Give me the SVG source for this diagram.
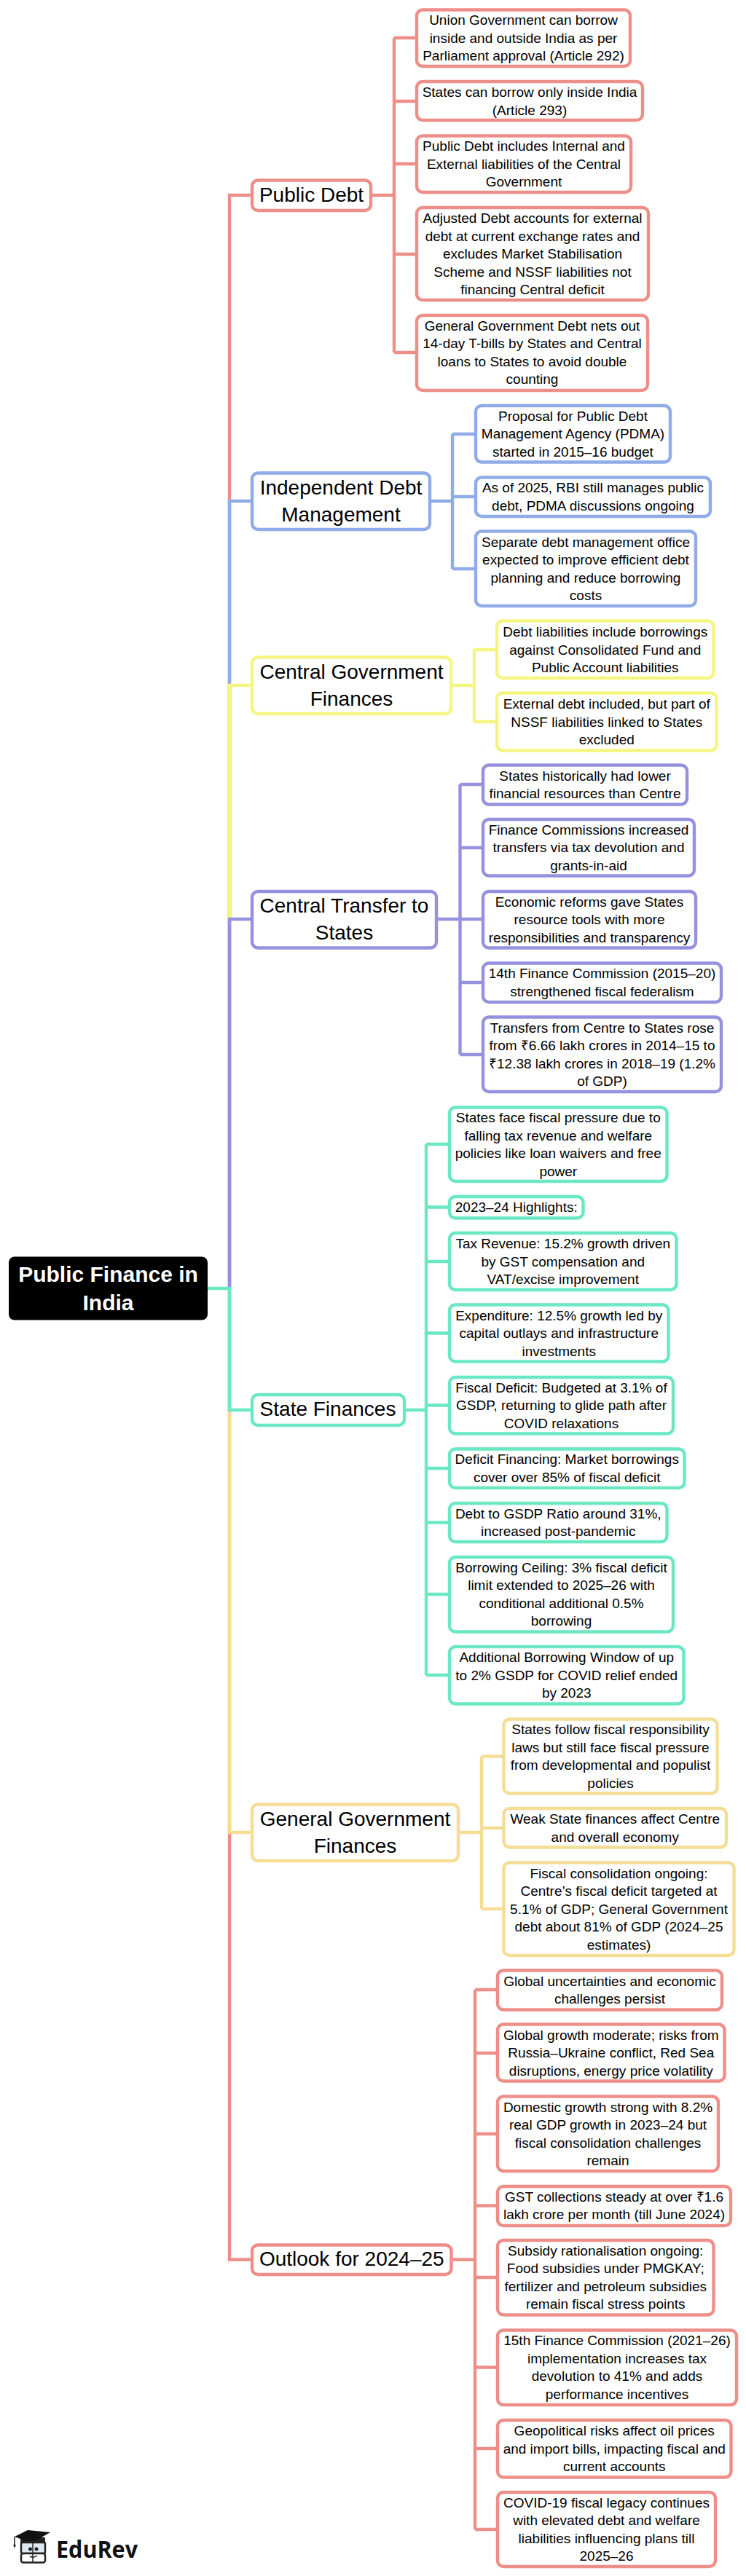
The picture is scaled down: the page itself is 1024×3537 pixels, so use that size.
<svg xmlns="http://www.w3.org/2000/svg" width="1024" height="3537" viewBox="0 0 1024 3537">
<style>
text{font-family:"Liberation Sans",Arial,sans-serif;fill:#000;text-anchor:middle}
.l{font-size:19px}
.t{font-size:28px}
.r{font-size:30px;font-weight:700;fill:#fff}
rect.n{fill:#fff;stroke-width:4.400}
.c{fill:none;stroke-width:4.400}
.red{stroke:#EE8E88}.blue{stroke:#90ACE8}.yel{stroke:#F5F582}.pur{stroke:#9691DE}.grn{stroke:#6AE8C4}.gold{stroke:#F5DD95}
</style>
<rect width="1024" height="3537" fill="#fff"/>
<g id="connectors">
<path class="c red" d="M315 1769V268H344M511 268H541M541 52H570M541 139H570M541 225H570M541 349H570M541 484H570M541 52V484"/>
<path class="c blue" d="M315 1769V688H344M592 688H621M621 596H651M621 682H651M621 781H651M621 596V781"/>
<path class="c yel" d="M315 1769V941H344M621 941H651M651 892H680M651 991H680M651 892V991"/>
<path class="c pur" d="M315 1769V1262H344M601 1262H661M631.500 1077H661M631.500 1164H661M631.500 1349H661M631.500 1448H661M631.500 1077V1448"/>
<path class="c red" d="M315 1769V3102.500H344M621.500 3102.500H652M652 2732H681M652 2819H681M652 2930H681M652 3028.500H681M652 3127H681M652 3250.500H681M652 3362H681M652 3473H681M652 2732V3473"/>
<path class="c gold" d="M315 1769V2516H344M631 2516H661M661 2411.500H690M661 2510H690M661 2621H690M661 2411.500V2621"/>
<path class="c grn" d="M285 1769H315V1936H344M556 1936H585M585 1571H615M585 1657.500H615M585 1732H615M585 1830.500H615M585 1929.500H615M585 2016H615M585 2090.500H615M585 2189H615M585 2300H615M585 1571V2300"/>
</g>
<g id="root"><rect x="12" y="1725.500" width="273" height="87" rx="8" fill="#000"/><text class="r"><tspan x="148.500" y="1759.500">Public Finance in</tspan><tspan x="148.500" y="1798.500">India</tspan></text></g>

<g id="public-debt"><rect class="n red" x="346" y="247.500" width="163" height="41.500" rx="8"/><text class="t"><tspan x="427.500" y="276.500">Public Debt</tspan></text></g>
<g id="pd1"><rect class="n red" x="572" y="13.500" width="293" height="77.500" rx="8"/><text class="l"><tspan x="718.500" y="34">Union Government can borrow</tspan><tspan x="718.500" y="58.500">inside and outside India as per</tspan><tspan x="718.500" y="83">Parliament approval (Article 292)</tspan></text></g>
<g id="pd2"><rect class="n red" x="572" y="112" width="310" height="53" rx="8"/><text class="l"><tspan x="727" y="133">States can borrow only inside India</tspan><tspan x="727" y="157.500">(Article 293)</tspan></text></g>
<g id="pd3"><rect class="n red" x="572" y="186.500" width="294" height="77.500" rx="8"/><text class="l"><tspan x="719" y="207">Public Debt includes Internal and</tspan><tspan x="719" y="231.500">External liabilities of the Central</tspan><tspan x="719" y="256">Government</tspan></text></g>
<g id="pd4"><rect class="n red" x="572" y="285" width="318" height="127" rx="8"/><text class="l"><tspan x="731" y="306">Adjusted Debt accounts for external</tspan><tspan x="731" y="330.500">debt at current exchange rates and</tspan><tspan x="731" y="355">excludes Market Stabilisation</tspan><tspan x="731" y="379.500">Scheme and NSSF liabilities not</tspan><tspan x="731" y="404">financing Central deficit</tspan></text></g>
<g id="pd5"><rect class="n red" x="572" y="433" width="317" height="103" rx="8"/><text class="l"><tspan x="730.500" y="453.750">General Government Debt nets out</tspan><tspan x="730.500" y="478.250">14-day T-bills by States and Central</tspan><tspan x="730.500" y="502.750">loans to States to avoid double</tspan><tspan x="730.500" y="527.250">counting</tspan></text></g>

<g id="independent"><rect class="n blue" x="346" y="649.500" width="244" height="77.500" rx="8"/><text class="t"><tspan x="468" y="678.500">Independent Debt</tspan><tspan x="468" y="715.500">Management</tspan></text></g>
<g id="id1"><rect class="n blue" x="653" y="557" width="267" height="77.500" rx="8"/><text class="l"><tspan x="786.500" y="577.500">Proposal for Public Debt</tspan><tspan x="786.500" y="602">Management Agency (PDMA)</tspan><tspan x="786.500" y="626.500">started in 2015–16 budget</tspan></text></g>
<g id="id2"><rect class="n blue" x="653" y="655.500" width="322" height="53.500" rx="8"/><text class="l"><tspan x="814" y="676.250">As of 2025, RBI still manages public</tspan><tspan x="814" y="700.750">debt, PDMA discussions ongoing</tspan></text></g>
<g id="id3"><rect class="n blue" x="653" y="729.500" width="302" height="102.500" rx="8"/><text class="l"><tspan x="804" y="750.750">Separate debt management office</tspan><tspan x="804" y="775.250">expected to improve efficient debt</tspan><tspan x="804" y="799.750">planning and reduce borrowing</tspan><tspan x="804" y="824.250">costs</tspan></text></g>

<g id="central-gov"><rect class="n yel" x="346" y="902.500" width="273" height="77.500" rx="8"/><text class="t"><tspan x="482.500" y="931.500">Central Government</tspan><tspan x="482.500" y="968.500">Finances</tspan></text></g>
<g id="cg1"><rect class="n yel" x="682" y="852.500" width="297.500" height="78.500" rx="8"/><text class="l"><tspan x="830.750" y="874">Debt liabilities include borrowings</tspan><tspan x="830.750" y="898.500">against Consolidated Fund and</tspan><tspan x="830.750" y="923">Public Account liabilities</tspan></text></g>
<g id="cg2"><rect class="n yel" x="682" y="951.500" width="301.500" height="79" rx="8"/><text class="l"><tspan x="832.750" y="973">External debt included, but part of</tspan><tspan x="832.750" y="997.500">NSSF liabilities linked to States</tspan><tspan x="832.750" y="1022">excluded</tspan></text></g>

<g id="central-transfer"><rect class="n pur" x="346" y="1224" width="253" height="77.500" rx="8"/><text class="t"><tspan x="472.500" y="1253">Central Transfer to</tspan><tspan x="472.500" y="1290">States</tspan></text></g>
<g id="ct1"><rect class="n pur" x="663" y="1050.500" width="280" height="54" rx="8"/><text class="l"><tspan x="803" y="1071.500">States historically had lower</tspan><tspan x="803" y="1096">financial resources than Centre</tspan></text></g>
<g id="ct2"><rect class="n pur" x="663" y="1125" width="290" height="77.500" rx="8"/><text class="l"><tspan x="808" y="1145.750">Finance Commissions increased</tspan><tspan x="808" y="1170.250">transfers via tax devolution and</tspan><tspan x="808" y="1194.750">grants-in-aid</tspan></text></g>
<g id="ct3"><rect class="n pur" x="663" y="1224" width="292" height="77.500" rx="8"/><text class="l"><tspan x="809" y="1244.500">Economic reforms gave States</tspan><tspan x="809" y="1269">resource tools with more</tspan><tspan x="809" y="1293.500">responsibilities and transparency</tspan></text></g>
<g id="ct4"><rect class="n pur" x="663" y="1322.500" width="327" height="53.500" rx="8"/><text class="l"><tspan x="826.500" y="1343.250">14th Finance Commission (2015–20)</tspan><tspan x="826.500" y="1367.750">strengthened fiscal federalism</tspan></text></g>
<g id="ct5"><rect class="n pur" x="663" y="1396.500" width="327" height="102.500" rx="8"/><text class="l"><tspan x="826.500" y="1417.500">Transfers from Centre to States rose</tspan><tspan x="826.500" y="1442">from ₹6.66 lakh crores in 2014–15 to</tspan><tspan x="826.500" y="1466.500">₹12.38 lakh crores in 2018–19 (1.2%</tspan><tspan x="826.500" y="1491">of GDP)</tspan></text></g>

<g id="state-finances"><rect class="n grn" x="346" y="1915" width="209" height="42" rx="8"/><text class="t"><tspan x="450" y="1944">State Finances</tspan></text></g>
<g id="sf1"><rect class="n grn" x="617" y="1520.500" width="298.500" height="101.500" rx="8"/><text class="l"><tspan x="766.250" y="1541">States face fiscal pressure due to</tspan><tspan x="766.250" y="1565.500">falling tax revenue and welfare</tspan><tspan x="766.250" y="1590">policies like loan waivers and free</tspan><tspan x="766.250" y="1614.500">power</tspan></text></g>
<g id="sf2"><rect class="n grn" x="617" y="1643" width="183.500" height="29.500" rx="8"/><text class="l"><tspan x="708.750" y="1664">2023–24 Highlights:</tspan></text></g>
<g id="sf3"><rect class="n grn" x="617" y="1693" width="311.500" height="78" rx="8"/><text class="l"><tspan x="772.750" y="1714">Tax Revenue: 15.2% growth driven</tspan><tspan x="772.750" y="1738.500">by GST compensation and</tspan><tspan x="772.750" y="1763">VAT/excise improvement</tspan></text></g>
<g id="sf4"><rect class="n grn" x="617" y="1791.500" width="300.500" height="78" rx="8"/><text class="l"><tspan x="767.250" y="1812.500">Expenditure: 12.5% growth led by</tspan><tspan x="767.250" y="1837">capital outlays and infrastructure</tspan><tspan x="767.250" y="1861.500">investments</tspan></text></g>
<g id="sf5"><rect class="n grn" x="617" y="1891" width="307" height="77.500" rx="8"/><text class="l"><tspan x="770.500" y="1911.500">Fiscal Deficit: Budgeted at 3.1% of</tspan><tspan x="770.500" y="1936">GSDP, returning to glide path after</tspan><tspan x="770.500" y="1960.500">COVID relaxations</tspan></text></g>
<g id="sf6"><rect class="n grn" x="617" y="1989.500" width="322.500" height="53.500" rx="8"/><text class="l"><tspan x="778.250" y="2010.250">Deficit Financing: Market borrowings</tspan><tspan x="778.250" y="2034.750">cover over 85% of fiscal deficit</tspan></text></g>
<g id="sf7"><rect class="n grn" x="617" y="2064" width="298.500" height="53" rx="8"/><text class="l"><tspan x="766.250" y="2084.750">Debt to GSDP Ratio around 31%,</tspan><tspan x="766.250" y="2109.250">increased post-pandemic</tspan></text></g>
<g id="sf8"><rect class="n grn" x="617" y="2138" width="307" height="102.500" rx="8"/><text class="l"><tspan x="770.500" y="2158.750">Borrowing Ceiling: 3% fiscal deficit</tspan><tspan x="770.500" y="2183.250">limit extended to 2025–26 with</tspan><tspan x="770.500" y="2207.750">conditional additional 0.5%</tspan><tspan x="770.500" y="2232.250">borrowing</tspan></text></g>
<g id="sf9"><rect class="n grn" x="617" y="2261" width="321.500" height="78.500" rx="8"/><text class="l"><tspan x="777.750" y="2282">Additional Borrowing Window of up</tspan><tspan x="777.750" y="2306.500">to 2% GSDP for COVID relief ended</tspan><tspan x="777.750" y="2331">by 2023</tspan></text></g>

<g id="general-gov"><rect class="n gold" x="346" y="2477.500" width="283" height="77.500" rx="8"/><text class="t"><tspan x="487.500" y="2506.500">General Government</tspan><tspan x="487.500" y="2543.500">Finances</tspan></text></g>
<g id="gg1"><rect class="n gold" x="691.500" y="2360.500" width="293" height="102" rx="8"/><text class="l"><tspan x="838" y="2381.250">States follow fiscal responsibility</tspan><tspan x="838" y="2405.750">laws but still face fiscal pressure</tspan><tspan x="838" y="2430.250">from developmental and populist</tspan><tspan x="838" y="2454.750">policies</tspan></text></g>
<g id="gg2"><rect class="n gold" x="691.500" y="2483" width="305.500" height="53.500" rx="8"/><text class="l"><tspan x="844.250" y="2504">Weak State finances affect Centre</tspan><tspan x="844.250" y="2528.500">and overall economy</tspan></text></g>
<g id="gg3"><rect class="n gold" x="691.500" y="2557.500" width="316" height="127.500" rx="8"/><text class="l"><tspan x="849.500" y="2578.500">Fiscal consolidation ongoing:</tspan><tspan x="849.500" y="2603">Centre’s fiscal deficit targeted at</tspan><tspan x="849.500" y="2627.500">5.1% of GDP; General Government</tspan><tspan x="849.500" y="2652">debt about 81% of GDP (2024–25</tspan><tspan x="849.500" y="2676.500">estimates)</tspan></text></g>

<g id="outlook"><rect class="n red" x="346" y="3082.500" width="273.500" height="40.500" rx="8"/><text class="t"><tspan x="482.750" y="3111">Outlook for 2024–25</tspan></text></g>
<g id="ol1"><rect class="n red" x="683" y="2705.500" width="308" height="54" rx="8"/><text class="l"><tspan x="837" y="2726.500">Global uncertainties and economic</tspan><tspan x="837" y="2751">challenges persist</tspan></text></g>
<g id="ol2"><rect class="n red" x="683" y="2779.500" width="311.500" height="78" rx="8"/><text class="l"><tspan x="838.750" y="2800.500">Global growth moderate; risks from</tspan><tspan x="838.750" y="2825">Russia–Ukraine conflict, Red Sea</tspan><tspan x="838.750" y="2849.500">disruptions, energy price volatility</tspan></text></g>
<g id="ol3"><rect class="n red" x="683" y="2878.500" width="303" height="102.500" rx="8"/><text class="l"><tspan x="834.500" y="2899.500">Domestic growth strong with 8.2%</tspan><tspan x="834.500" y="2924">real GDP growth in 2023–24 but</tspan><tspan x="834.500" y="2948.500">fiscal consolidation challenges</tspan><tspan x="834.500" y="2973">remain</tspan></text></g>
<g id="ol4"><rect class="n red" x="683" y="3002" width="320" height="54" rx="8"/><text class="l"><tspan x="843" y="3022.750">GST collections steady at over ₹1.6</tspan><tspan x="843" y="3047.250">lakh crore per month (till June 2024)</tspan></text></g>
<g id="ol5"><rect class="n red" x="683" y="3076" width="296.500" height="102.500" rx="8"/><text class="l"><tspan x="831.250" y="3096.750">Subsidy rationalisation ongoing:</tspan><tspan x="831.250" y="3121.250">Food subsidies under PMGKAY;</tspan><tspan x="831.250" y="3145.750">fertilizer and petroleum subsidies</tspan><tspan x="831.250" y="3170.250">remain fiscal stress points</tspan></text></g>
<g id="ol6"><rect class="n red" x="683" y="3199.500" width="328" height="102.500" rx="8"/><text class="l"><tspan x="847" y="3220.250">15th Finance Commission (2021–26)</tspan><tspan x="847" y="3244.750">implementation increases tax</tspan><tspan x="847" y="3269.250">devolution to 41% and adds</tspan><tspan x="847" y="3293.750">performance incentives</tspan></text></g>
<g id="ol7"><rect class="n red" x="683" y="3323" width="320.500" height="78.500" rx="8"/><text class="l"><tspan x="843.250" y="3344">Geopolitical risks affect oil prices</tspan><tspan x="843.250" y="3368.500">and import bills, impacting fiscal and</tspan><tspan x="843.250" y="3393">current accounts</tspan></text></g>
<g id="ol8"><rect class="n red" x="683" y="3422" width="299" height="102" rx="8"/><text class="l"><tspan x="832.500" y="3442.750">COVID-19 fiscal legacy continues</tspan><tspan x="832.500" y="3467.250">with elevated debt and welfare</tspan><tspan x="832.500" y="3491.750">liabilities influencing plans till</tspan><tspan x="832.500" y="3516.250">2025–26</tspan></text></g>

<g id="logo">
<rect x="29" y="3491" width="33" height="15" rx="2" fill="#DCE8F2" stroke="#222" stroke-width="2.500"/>
<rect x="29" y="3506" width="33" height="12.500" rx="3" fill="#fff" stroke="#222" stroke-width="2.500"/>
<path d="M45 3491V3518" stroke="#222" stroke-width="1.500" fill="none"/>
<path d="M28 3484V3492H62V3484Z" fill="#222"/>
<polygon points="20,3483 38,3474 69,3477 50,3488 36,3489" fill="#111"/>
<path d="M20 3483V3494" stroke="#222" stroke-width="1.500" fill="none"/>
<polygon points="18,3494 22,3494 20,3499" fill="#222"/>
<circle cx="41.500" cy="3500" r="2.500" fill="#222"/><circle cx="50" cy="3500" r="2.500" fill="#222"/>
<path d="M41 3510Q46 3513 51 3509" stroke="#222" stroke-width="1.500" fill="none"/>
<text x="77" y="3511.700" textLength="112" lengthAdjust="spacingAndGlyphs" style="font-family:'Open Sans',sans-serif;font-size:32px;font-weight:700;fill:#111;text-anchor:start">EduRev</text>
</g>
</svg>
